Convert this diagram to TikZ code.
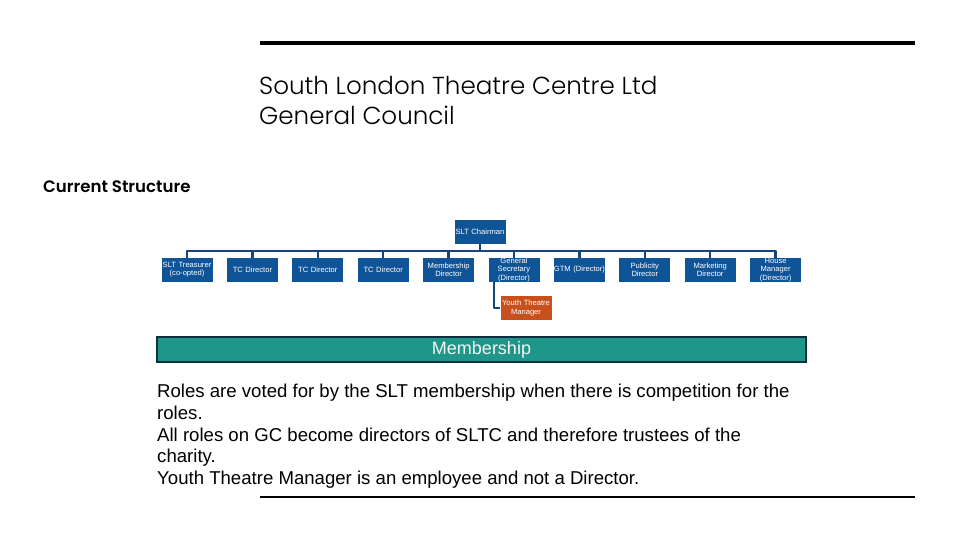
\documentclass[tikz,border=0pt]{standalone}
\usepackage{fontspec}
\setmainfont{Liberation Sans}
\newfontfamily\titlefont{Poppins Light}
\newfontfamily\headfont{Poppins SemiBold}
\usepackage{tikz}
\usetikzlibrary{positioning,calc}

\definecolor{orgblue}{RGB}{16,84,152}
\definecolor{orgline}{RGB}{22,70,120}
\definecolor{ytmorange}{RGB}{200,80,28}
\definecolor{memteal}{RGB}{31,150,138}
\definecolor{memedge}{RGB}{12,46,64}

\begin{document}
\begin{tikzpicture}[
  x=1pt, y=-1pt,
  orgbox/.style={rectangle, fill=orgblue, text=white, minimum width=51pt,
                 minimum height=24pt, text width=51pt, inner sep=0pt,
                 align=center, font=\fontsize{7.6}{8.2}\selectfont},
  ytmbox/.style={orgbox, fill=ytmorange},
  memberbar/.style={rectangle, fill=memteal, draw=memedge, line width=2pt,
                    minimum width=649pt, minimum height=25pt, inner sep=0pt,
                    text=white!92!gray, font=\fontsize{18}{20}\selectfont},
  link/.style={draw=orgline, line width=2.4pt, line join=round},
  node distance=14pt
]
  \useasboundingbox (0,0) rectangle (960,540);

  % rules and headings
  \draw[line width=4pt] (260,43) -- (915,43);
  \draw[line width=2pt] (260,497) -- (915,497);
  \node[anchor=west, inner sep=0pt, align=left,
        font=\titlefont\fontsize{24.6}{30}\selectfont] (title) at (259,101)
       {South London Theatre Centre Ltd\\General Council};
  \node[anchor=west, inner sep=0pt, font=\headfont\fontsize{16.6}{18}\selectfont]
       (current) at (43,187) {Current Structure};

  % chart
  \node[orgbox] (chair) at (480,232) {SLT Chairman};
  \node[orgbox] (treas) at (187,270) {\mbox{SLT Treasurer}\\(co-opted)};
  \node[orgbox, right=of treas]  (tca)    {TC Director};
  \node[orgbox, right=of tca]    (tcb)    {TC Director};
  \node[orgbox, right=of tcb]    (tcc)    {TC Director};
  \node[orgbox, right=of tcc]    (memb)   {Membership\\Director};
  \node[orgbox, right=of memb]   (gensec) {General\\Secretary\\(Director)};
  \node[orgbox, right=of gensec] (gtm)    {\mbox{GTM (Director)}};
  \node[orgbox, right=of gtm]    (pub)    {Publicity\\Director};
  \node[orgbox, right=of pub]    (mkt)    {Marketing\\Director};
  \node[orgbox, right=of mkt]    (house)  {House\\Manager\\(Director)};
  \node[ytmbox] (youth) at (526,308) {\mbox{Youth Theatre}\\Manager};

  \coordinate (busbar) at ($(chair.south)+(0,6.5)$);
  \draw[link] (chair.south) -- (busbar);
  \foreach \n in {treas,tca,tcb,tcc,memb,gensec,gtm,pub,mkt,house}
    \draw[link] (busbar) -| (\n.north);
  \draw[link] ([xshift=-20pt]gensec.south) |- (youth.west);

  \node[memberbar] (members) at (481.5,349.5) {Membership};

  % notes
  \node[anchor=north west, inner sep=0pt, align=left,
        font=\fontsize{18.6}{21.8}\selectfont] (notes) at (157,383.8)
       {Roles are voted for by the SLT membership when there is competition for the\\
        roles.\\
        All roles on GC become directors of SLTC and therefore trustees of the\\
        charity.\\
        Youth Theatre Manager is an employee and not a Director.};
\end{tikzpicture}
\end{document}
